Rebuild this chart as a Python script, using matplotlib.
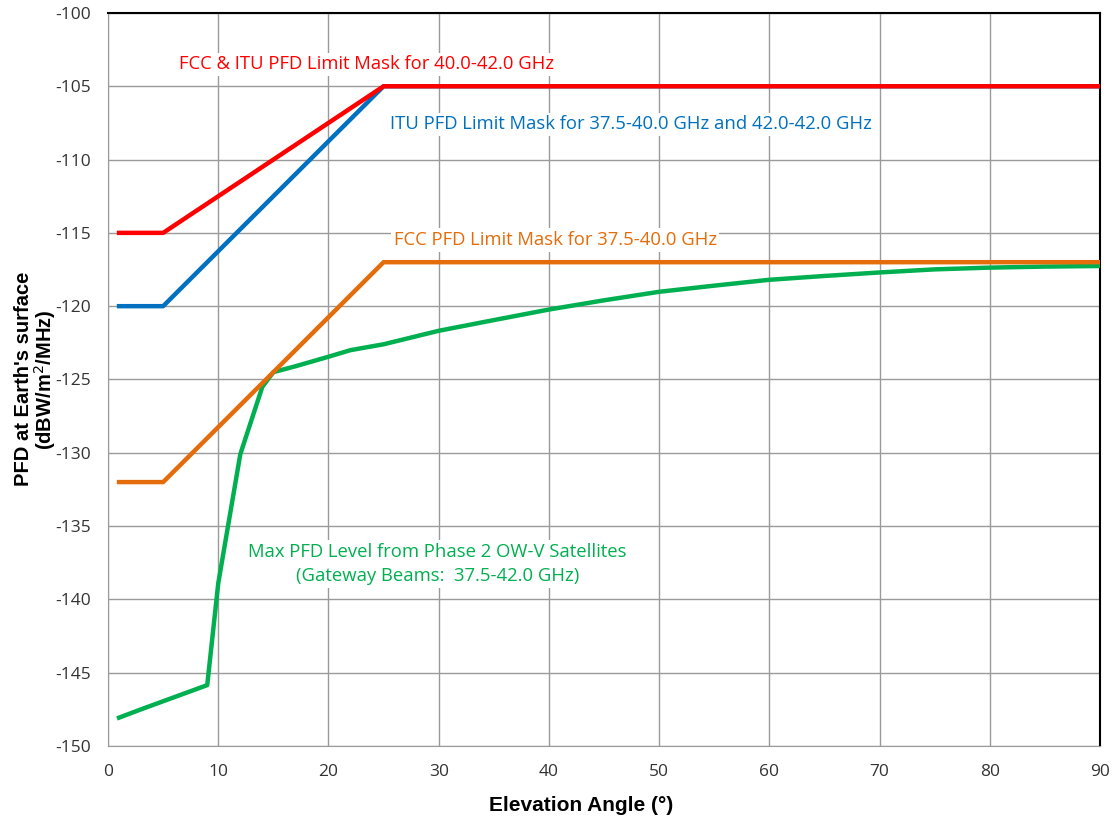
import numpy as np
import matplotlib
matplotlib.use('Agg')
import matplotlib.pyplot as plt

plt.rcParams['axes.unicode_minus'] = False

# mask breakpoints (elevation deg, dBW/m2/MHz)
mask_x = [1, 5, 25, 90]
fcc_itu_40_42 = [-115, -115, -105, -105]
itu_375_40 = [-120, -120, -105, -105]
fcc_375_40 = [-132, -132, -117, -117]

# max PFD from Phase 2 OW-V satellites
owv_x = [1, 3, 5, 7, 9, 10, 12, 14, 15, 17, 20, 22, 25, 30, 35, 40, 45, 50,
         55, 60, 65, 70, 75, 80, 85, 90]
owv_pfd = [-148.07, -147.5, -146.95, -146.4, -145.85, -138.9, -130.1, -125.5,
           -124.5, -124.1, -123.45, -123.0, -122.6, -121.68, -120.95, -120.23,
           -119.6, -119.02, -118.6, -118.2, -117.94, -117.7, -117.49, -117.37,
           -117.3, -117.26]

labels = ['FCC & ITU PFD Limit Mask for 40.0-42.0 GHz',
          'ITU PFD Limit Mask for 37.5-40.0 GHz and 42.0-42.0 GHz',
          'FCC PFD Limit Mask for 37.5-40.0 GHz',
          'Max PFD Level from Phase 2 OW-V Satellites\n(Gateway Beams:  37.5-42.0 GHz)']

c_red, c_blue, c_orange, c_green = '#FF0000', '#0070C0', '#E46C0A', '#00B050'

fig = plt.figure(figsize=(11.16, 8.21), dpi=100)
ax = fig.add_axes([0.0968, 0.0914, 0.8889, 0.8928])

lw = 3.2
ax.plot(mask_x, itu_375_40, color=c_blue, lw=lw, zorder=4)
ax.plot(mask_x, fcc_itu_40_42, color=c_red, lw=lw, zorder=5)
ax.plot(mask_x, fcc_375_40, color=c_orange, lw=lw, zorder=4)
ax.plot(owv_x, owv_pfd, color=c_green, lw=lw, zorder=3)

ax.set_xlim(0, 90)
ax.set_ylim(-150, -100)
ax.set_xticks(np.arange(0, 91, 10))
ax.set_yticks(np.arange(-150, -99, 5))
ax.grid(True, color='#9A9A9A', lw=1.0)
ax.set_axisbelow(True)
ax.tick_params(length=0, labelsize=12.5, colors='#333333')
ax.tick_params(axis='x', pad=13)
ax.tick_params(axis='y', pad=12)
for lab in ax.get_xticklabels() + ax.get_yticklabels():
    lab.set_family('Open Sans')

for s in ['left', 'bottom']:
    ax.spines[s].set_color('#9A9A9A')
for s in ['top', 'right']:
    ax.spines[s].set_color('black')
    ax.spines[s].set_linewidth(1.5)

fig.text(0.521, 0.019, 'Elevation Angle (°)', ha='center', va='center',
         fontsize=15, fontweight='bold', family='Liberation Sans')
fig.text(0.032, 0.538, "PFD at Earth's surface\n(dBW/m$^2$/MHz)", rotation=90,
         ha='center', va='center', fontsize=14.5, fontweight='bold',
         family='Liberation Sans', linespacing=0.95)

box = dict(facecolor='white', edgecolor='none', pad=2)
tkw = dict(fontsize=13.3, family='Open Sans', zorder=2, bbox=box)
ax.text(6.4, -103.5, labels[0], color=c_red, va='center', **tkw)
ax.text(25.6, -107.6, labels[1], color=c_blue, va='center', **tkw)
ax.text(25.9, -115.5, labels[2], color=c_orange, va='center', **tkw)
ax.text(29.9, -137.6, labels[3], color=c_green, ha='center', va='center',
        linespacing=1.45, **tkw)

fig.savefig('out.png', dpi=100)
